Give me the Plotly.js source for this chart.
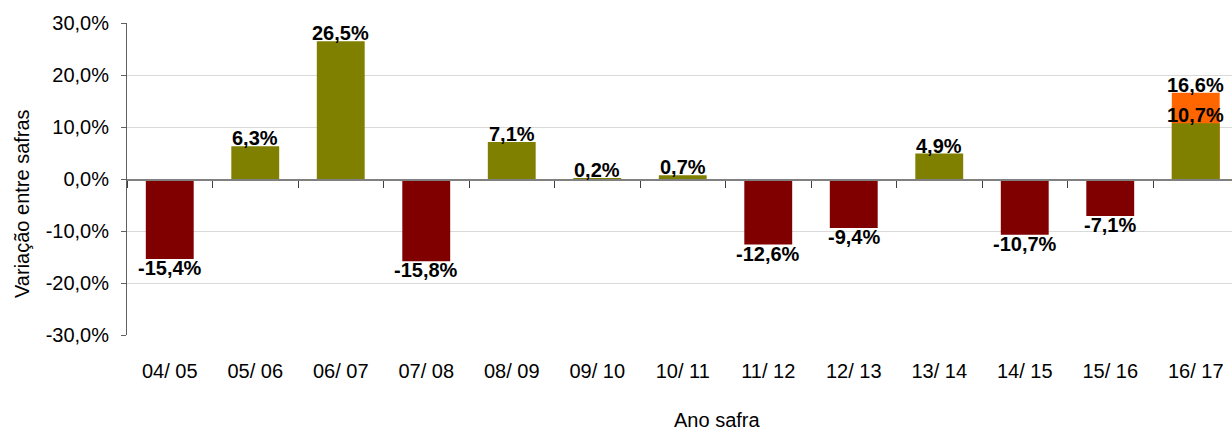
<!DOCTYPE html>
<html>
<head>
<meta charset="utf-8">
<script src="https://cdn.plot.ly/plotly-3.0.1.min.js"></script>
<style>html,body{margin:0;padding:0;background:#fff;}#chart{width:1232px;height:432px;}</style>
</head>
<body>
<div id="chart"></div>
<script>
const categories = ['04/ 05','05/ 06','06/ 07','07/ 08','08/ 09','09/ 10','10/ 11','11/ 12','12/ 13','13/ 14','14/ 15','15/ 16','16/ 17'];
const variacao = [-15.4, 6.3, 26.5, -15.8, 7.1, 0.2, 0.7, -12.6, -9.4, 4.9, -10.7, -7.1, 10.7];
const variacaoAlt = [null, null, null, null, null, null, null, null, null, null, null, null, 16.6];
const yTicks = [-30, -20, -10, 0, 10, 20, 30];
const yTickLabels = ['-30,0%', '-20,0%', '-10,0%', '0,0%', '10,0%', '20,0%', '30,0%'];

const fmt = v => v.toFixed(1).replace('.', ',') + '%';
const FONT = 'Liberation Sans, Arial, sans-serif';
const labelFont = {family: FONT, size: 20, color: '#000', weight: 'bold'};

const traces = [
  {
    type: 'bar', x: categories, y: variacaoAlt,
    marker: {color: '#FF6600'}, width: 0.56,
    hoverinfo: 'skip', showlegend: false
  },
  {
    type: 'bar', x: categories, y: variacao,
    marker: {color: variacao.map(v => v < 0 ? '#800000' : '#808000')}, width: 0.56,
    hoverinfo: 'skip', showlegend: false
  },
  {
    type: 'scatter', mode: 'markers', x: categories, y: categories.map(() => null),
    xaxis: 'x2', marker: {opacity: 0}, hoverinfo: 'skip', showlegend: false
  }
];

function labelFor(cat, v) {
  const pos = v >= 0;
  return {
    x: cat, y: v, xref: 'x', yref: 'y',
    text: '<b>' + fmt(v) + '</b>', showarrow: false,
    xanchor: 'center', yanchor: pos ? 'bottom' : 'top',
    yshift: pos ? -5 : 4,
    font: labelFont
  };
}

const valueLabels = [];
categories.forEach((c, i) => {
  if (variacaoAlt[i] !== null) valueLabels.push(labelFor(c, variacaoAlt[i]));
  valueLabels.push(labelFor(c, variacao[i]));
});

const xRange = [-0.5, -0.5 + 1105 / 85.5];

const layout = {
  width: 1232, height: 432,
  margin: {l: 127, r: 0, t: 23, b: 97},
  paper_bgcolor: '#fff', plot_bgcolor: '#fff',
  barmode: 'overlay',
  font: {family: FONT, size: 20, color: '#000'},
  xaxis: {
    type: 'category', categoryarray: categories, categoryorder: 'array',
    range: xRange, showline: false, showgrid: false, zeroline: false,
    ticks: '', ticklabelstandoff: 22,
    tickfont: {family: FONT, size: 20, color: '#000'}, fixedrange: true
  },
  xaxis2: {
    type: 'category', categoryarray: categories, categoryorder: 'array',
    overlaying: 'x', anchor: 'free', position: 0.5, matches: 'x',
    range: xRange, showline: true, linecolor: '#808080', linewidth: 1.5,
    showgrid: false, zeroline: false, showticklabels: false,
    ticks: 'outside', tickson: 'boundaries', ticklen: 7, tickcolor: '#404040', tickwidth: 1
  },
  yaxis: {
    range: [-30, 30], tickvals: yTicks, ticktext: yTickLabels,
    showline: true, linecolor: '#606060', linewidth: 1,
    ticks: 'outside', ticklen: 5, tickcolor: '#606060',
    showgrid: true, gridcolor: '#d9d9d9', gridwidth: 1, zeroline: false,
    ticklabelstandoff: 8,
    tickfont: {family: FONT, size: 20, color: '#000'}, fixedrange: true
  },
  annotations: valueLabels.concat([
    {text: 'Variação entre safras', xref: 'paper', yref: 'paper',
     x: (22 - 127) / 1105, y: (335 - 204) / 312, xanchor: 'center', yanchor: 'middle',
     textangle: -90, showarrow: false, font: {family: FONT, size: 20, color: '#000'}},
    {text: 'Ano safra', xref: 'paper', yref: 'paper',
     x: (717 - 127) / 1105, y: (335 - 420) / 312, xanchor: 'center', yanchor: 'middle',
     showarrow: false, font: {family: FONT, size: 20, color: '#000'}}
  ])
};

Plotly.newPlot('chart', traces, layout, {staticPlot: true, displayModeBar: false});
</script>
</body>
</html>
